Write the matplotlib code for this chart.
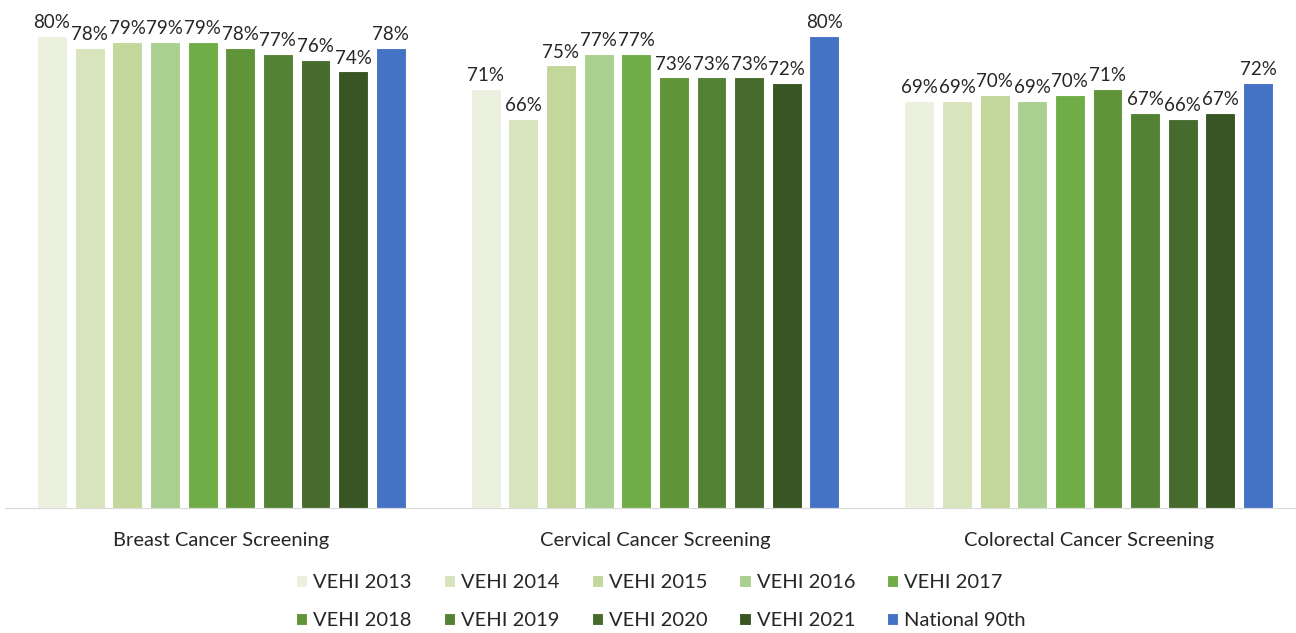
import matplotlib.pyplot as plt
import numpy as np

plt.rcParams['font.family'] = ['Lato', 'DejaVu Sans']

categories = ["Breast Cancer Screening", "Cervical Cancer Screening", "Colorectal Cancer Screening"]
series_names = ["VEHI 2013", "VEHI 2014", "VEHI 2015", "VEHI 2016", "VEHI 2017",
                "VEHI 2018", "VEHI 2019", "VEHI 2020", "VEHI 2021", "National 90th"]
# values per series: [breast, cervical, colorectal]
vehi_2013 = [80, 71, 69]
vehi_2014 = [78, 66, 69]
vehi_2015 = [79, 75, 70]
vehi_2016 = [79, 77, 69]
vehi_2017 = [79, 77, 70]
vehi_2018 = [78, 73, 71]
vehi_2019 = [77, 73, 67]
vehi_2020 = [76, 73, 66]
vehi_2021 = [74, 72, 67]
national_90th = [78, 80, 72]

series_values = [vehi_2013, vehi_2014, vehi_2015, vehi_2016, vehi_2017,
                 vehi_2018, vehi_2019, vehi_2020, vehi_2021, national_90th]
colors = ["#EBF1DE", "#D8E4BC", "#C4D79B", "#A9D08E", "#70AD47",
          "#609439", "#548235", "#466B2D", "#375623", "#4472C4"]

fig = plt.figure(figsize=(12.96, 6.33), dpi=100)
ax = fig.add_axes([0.0035, 0.1975, 0.9965, 0.8025])

x = np.arange(len(categories))
pitch = 0.0868
width = 0.069
n = len(series_values)
handles = []
for i, (name, vals, col) in enumerate(zip(series_names, series_values, colors)):
    pos = x + (i - (n - 1) / 2) * pitch
    bars = ax.bar(pos, vals, width=width, color=col, edgecolor="white", linewidth=0.8, label=name)
    handles.append(bars)
    for b, v in zip(bars, vals):
        ax.text(b.get_x() + b.get_width() / 2, v + 0.8, f"{v}%", ha="center", va="bottom",
                fontsize=13.5, color="#262626")

ax.set_xlim(-0.5, 2.478)
ax.set_ylim(0, 86.1)
for s in ["top", "right", "left"]:
    ax.spines[s].set_visible(False)
ax.spines["bottom"].set_color("#D9D9D9")
ax.set_yticks([])
ax.set_xticks(x)
ax.set_xticklabels(categories, fontsize=14.5, color="#262626")
ax.tick_params(axis="x", length=0, pad=17)

# legend fills by column, so reorder to read row by row
order = [0, 5, 1, 6, 2, 7, 3, 8, 4, 9]
fig.legend([handles[k] for k in order], [series_names[k] for k in order],
           loc="center", bbox_to_anchor=(0.51, 0.05), ncol=5, frameon=False,
           fontsize=14.5, handlelength=0.55, handleheight=0.55, handletextpad=0.3,
           columnspacing=1.6, labelspacing=1.05, labelcolor="#262626")

fig.savefig("out.png", dpi=100)
